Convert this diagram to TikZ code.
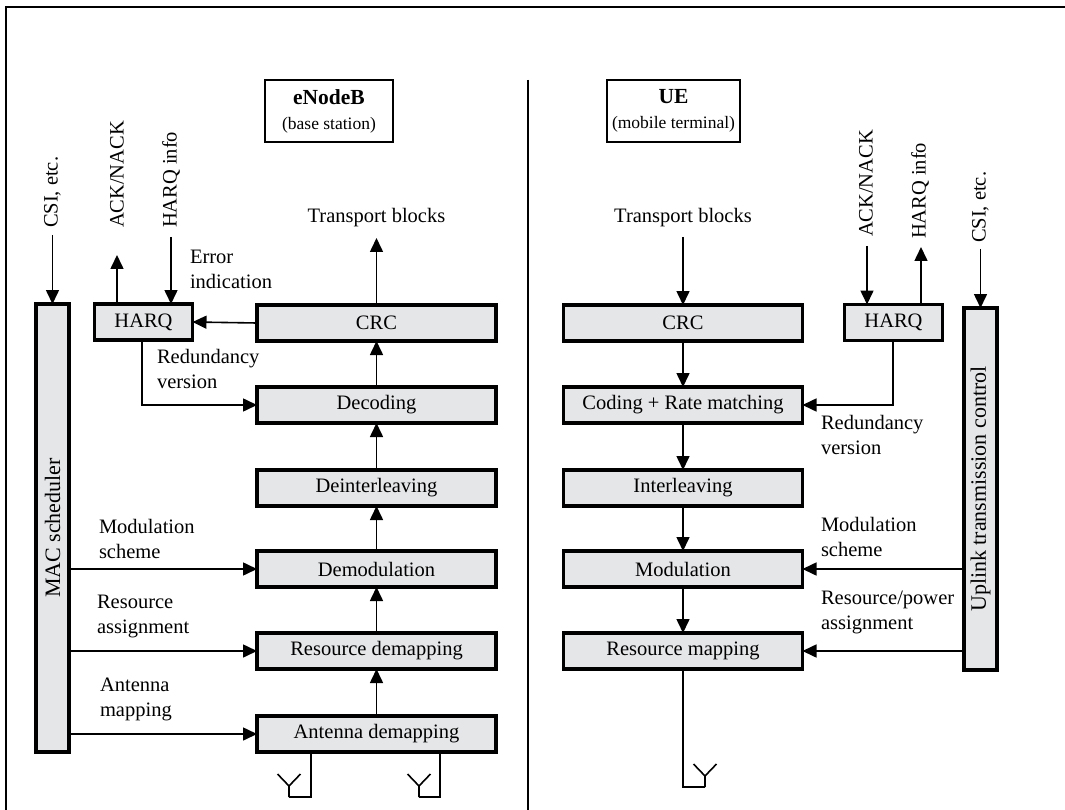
\documentclass[tikz,border=0pt]{standalone}
\usepackage{fontspec}
\usepackage{graphicx}
\setmainfont{Liberation Serif}
\usetikzlibrary{arrows.meta}
\definecolor{boxgray}{RGB}{229,230,232}
\begin{document}
\begin{tikzpicture}[x=1pt,y=-1pt,
  every node/.style={inner sep=0pt,outer sep=0pt},
  txt/.style={font=\fontsize{20.5}{25}\selectfont},
  lab/.style={txt,align=left,anchor=west},
  vlab/.style={txt,rotate=90,anchor=west},
  blk/.style={txt,draw=black,line width=3.2pt,fill=boxgray,minimum width=239pt,minimum height=36pt},
  small/.style={txt,draw=black,line width=3.2pt,fill=boxgray,minimum width=98pt,minimum height=36pt},
  tall/.style={draw=black,line width=3.2pt,fill=boxgray,minimum width=33pt,font=\fontsize{22}{26}\selectfont},
  head/.style={draw=black,line width=1.3pt,minimum height=62pt,align=center,font=\fontsize{17.5}{25}\selectfont},
  flow/.style={line width=1.6pt,-{Triangle[length=14pt,width=13pt]}},
  wire/.style={line width=1.6pt},
  antenna/.pic={\draw[wire] (0,0) -- (0,-11) (-11.5,-23) -- (0,-11) -- (11.5,-23);}
]
\useasboundingbox (0,0) rectangle (1065,810);

% outer frame and the divider between the two sides
\draw[line width=2.5pt] (6,810) -- (6,7) -- (1065,7);
\draw[line width=1.6pt] (528,80) -- (528,810);

% headings
\node[head,minimum width=128pt] (enb) at (329,111) {{\fontsize{21.5}{25}\selectfont\bfseries eNodeB}\\(base station)};
\node[head,minimum width=133pt] (ue) at (673.5,111) {{\fontsize{21.5}{25}\selectfont\bfseries UE}\\(mobile terminal)};

% receiver chain (eNodeB)
\node[blk] (crcL) at (376.5,323) {CRC};
\node[blk] (decL) at (376.5,405) {Decoding};
\node[blk] (deintL) at (376.5,488) {Deinterleaving};
\node[blk] (demodL) at (376.5,569) {Demodulation};
\node[blk] (rdemapL) at (376.5,651) {Resource demapping};
\node[blk] (ademapL) at (376.5,734) {Antenna demapping};
\node[small] (harqL) at (143.5,322) {HARQ};
\node[tall,minimum height=448pt] (mac) at (52.5,528) {\rotatebox{90}{MAC scheduler}};

% transmitter chain (UE)
\node[blk] (crcR) at (683,323) {CRC};
\node[blk] (codR) at (683,405) {Coding + Rate matching};
\node[blk] (intR) at (683,488) {Interleaving};
\node[blk] (modR) at (683,569) {Modulation};
\node[blk] (rmapR) at (683,651) {Resource mapping};
\node[small] (harqR) at (893.5,322.5) {HARQ};
\node[tall,minimum height=362pt] (ulc) at (980.5,489) {\rotatebox{90}{Uplink transmission control}};

% free ends of connectors
\coordinate (tbL) at (376.5,238);
\coordinate (tbR) at (683,237);
\coordinate (csiL) at (52.5,235);
\coordinate (ackL) at (117,255);
\coordinate (hiL) at (171,237);
\coordinate (rvL) at (142,405);
\coordinate (ackR) at (867,246);
\coordinate (hiR) at (921,247);
\coordinate (csiR) at (980.5,249);
\coordinate (rvR) at (893,405);
\coordinate (a1) at (311,797);
\coordinate (a1s) at (289,797);
\coordinate (a2) at (440,797);
\coordinate (a2s) at (419,797);
\coordinate (a3) at (683,787);
\coordinate (a3s) at (705,787);

% eNodeB connectors
\draw[flow] (crcL.north) -- (tbL);
\draw[flow] (decL.north) -- (crcL.south);
\draw[flow] (deintL.north) -- (decL.south);
\draw[flow] (demodL.north) -- (deintL.south);
\draw[flow] (rdemapL.north) -- (demodL.south);
\draw[flow] (ademapL.north) -- (rdemapL.south);
\draw[flow] (crcL.west) -- (harqL.east);
\draw[flow] (harqL.south -| rvL) |- (decL.west);
\draw[flow] (harqL.north -| ackL) -- (ackL);
\draw[flow] (hiL) -- (hiL |- harqL.north);
\draw[flow] (csiL) -- (mac.north);
\draw[flow] (mac.east |- demodL.west) -- (demodL.west);
\draw[flow] (mac.east |- rdemapL.west) -- (rdemapL.west);
\draw[flow] (mac.east |- ademapL.west) -- (ademapL.west);
\draw[wire] (ademapL.south -| a1) -- (a1) -- (a1s);
\draw[wire] (ademapL.south -| a2) -- (a2) -- (a2s);
\pic at (a1s) {antenna};
\pic at (a2s) {antenna};

% UE connectors
\draw[flow] (tbR) -- (crcR.north);
\draw[flow] (crcR.south) -- (codR.north);
\draw[flow] (codR.south) -- (intR.north);
\draw[flow] (intR.south) -- (modR.north);
\draw[flow] (modR.south) -- (rmapR.north);
\draw[flow] (ackR) -- (ackR |- harqR.north);
\draw[flow] (harqR.north -| hiR) -- (hiR);
\draw[flow] (csiR) -- (ulc.north);
\draw[flow] (harqR.south -| rvR) |- (codR.east);
\draw[flow] (ulc.west |- modR.east) -- (modR.east);
\draw[flow] (ulc.west |- rmapR.east) -- (rmapR.east);
\draw[wire] (rmapR.south) -- (a3) -- (a3s);
\pic at (a3s) {antenna};

% labels
\node[txt] (tbLlab) at (376.5,218) {Transport blocks};
\node[txt] (tbRlab) at (683,218) {Transport blocks};
\node[vlab] (csiLlab) at (52.5,228) {CSI, etc.};
\node[vlab] (ackLlab) at (117,228) {ACK/NACK};
\node[vlab] (hiLlab) at (171,228) {HARQ info};
\node[vlab] (ackRlab) at (866,237) {ACK/NACK};
\node[vlab] (hiRlab) at (920,239) {HARQ info};
\node[vlab] (csiRlab) at (980.5,243) {CSI, etc.};
\node[lab] (errlab) at (190,269.5) {Error\\indication};
\node[lab] (rvLlab) at (157,368.5) {Redundancy\\version};
\node[lab] (modLlab) at (99,539) {Modulation\\scheme};
\node[lab] (resLlab) at (97,616.5) {Resource\\assignment};
\node[lab] (antLlab) at (100,699.5) {Antenna\\mapping};
\node[lab] (rvRlab) at (821,435) {Redundancy\\version};
\node[lab] (modRlab) at (821,536.5) {Modulation\\scheme};
\node[lab] (resRlab) at (821,612.5) {Resource/power\\assignment};
\end{tikzpicture}
\end{document}
